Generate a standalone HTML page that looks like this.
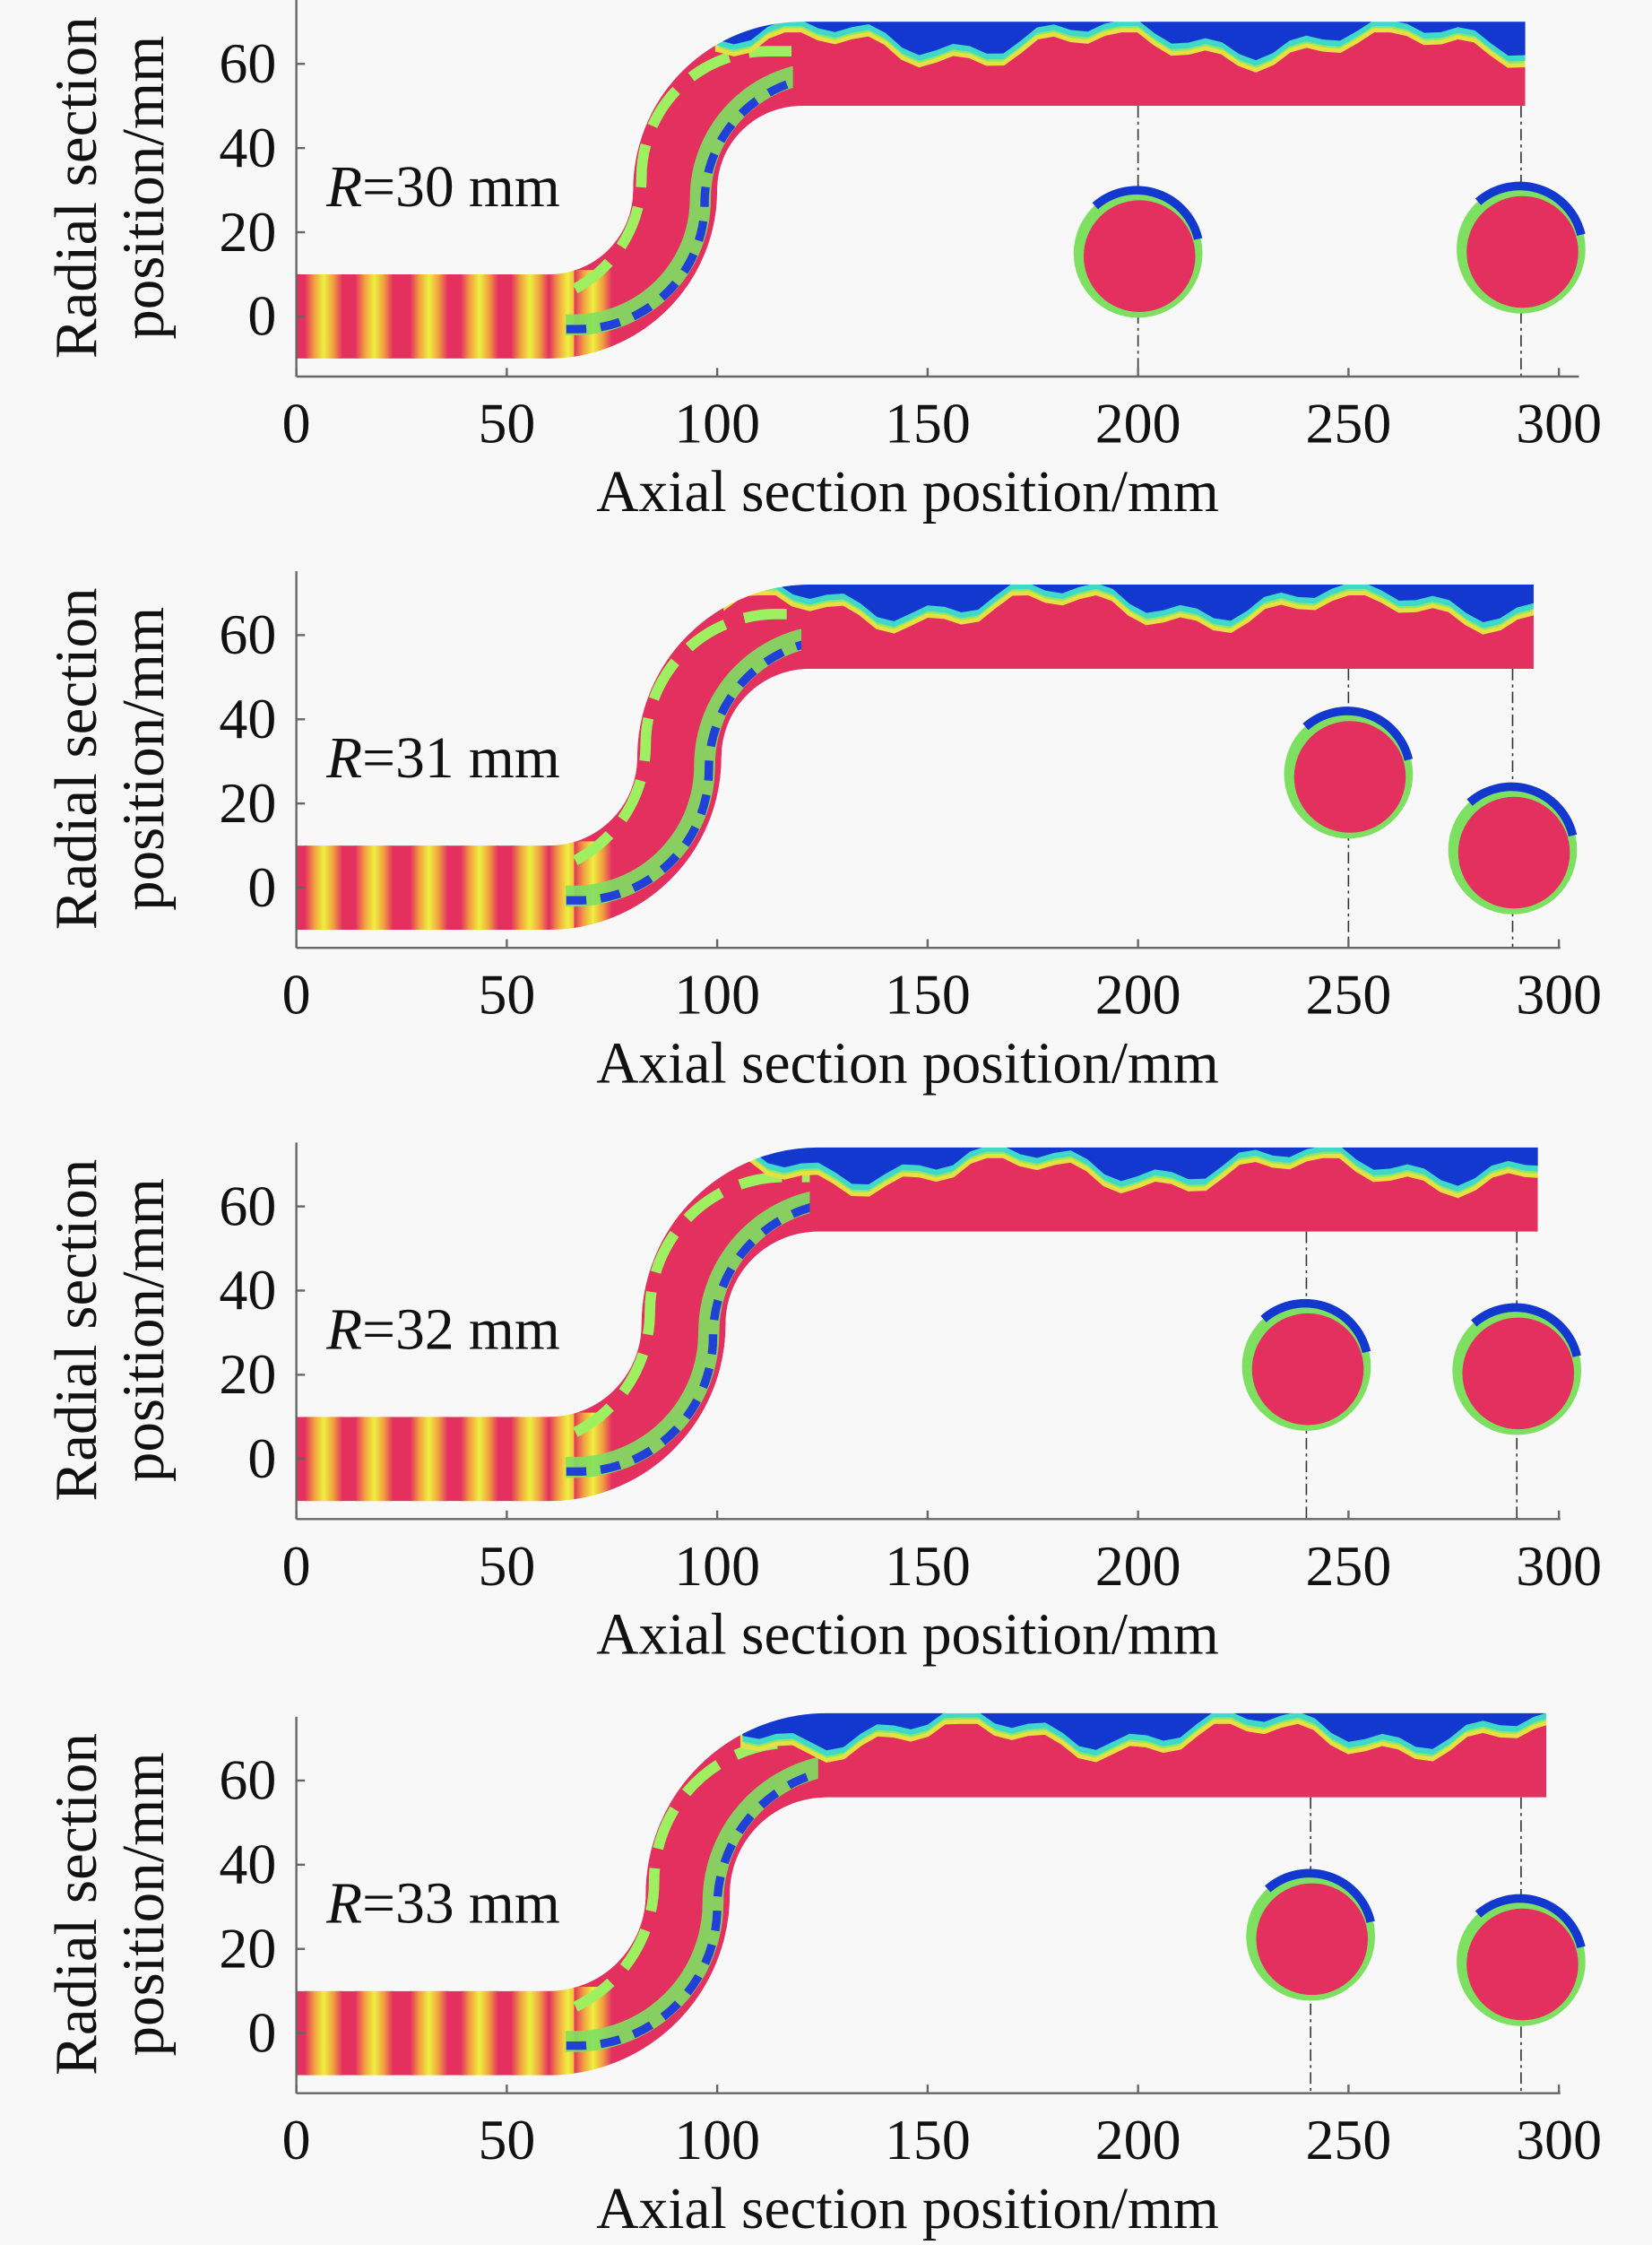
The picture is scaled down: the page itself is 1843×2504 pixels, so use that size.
<!DOCTYPE html>
<html><head><meta charset="utf-8"><style>
html,body{margin:0;padding:0;background:#f8f8f8;}
svg{display:block;}
text{font-family:"Liberation Serif",serif;fill:#111;}
</style></head><body>
<svg id="fig" width="1843" height="2504" viewBox="0 0 1154 1568" xmlns="http://www.w3.org/2000/svg">
<defs>
<linearGradient id="stripe" x1="0" x2="1" y1="0" y2="0">
<stop offset="0" stop-color="#e3305f"/><stop offset="0.25" stop-color="#f2a040"/><stop offset="0.5" stop-color="#eef040"/><stop offset="0.75" stop-color="#f2a040"/><stop offset="1" stop-color="#e3305f"/>
</linearGradient>
</defs>
</svg>
<script>
const radii = [30, 31, 32, 33];
const xTicks = [0, 50, 100, 150, 200, 250, 300];
const yTicks = [0, 20, 40, 60];
const outletEnd = [292, 294, 295, 297];
const sectionX = [[200, 291], [250, 289], [240, 290], [241, 291]];
const sectionY = [[15, 16], [27, 9], [22, 21], [23, 17]];
const stripeX = [2, 14, 27, 39, 51, 60, 66];

const NS = 'http://www.w3.org/2000/svg';
const svg = document.getElementById('fig');
const S = 2.94;
const X0 = 207;
const panelZero = [221, 620, 1019, 1420];
function X(v){ return X0 + v*S; }
function mk(tag, attrs, parent){ const e=document.createElementNS(NS,tag); for(const k in attrs) e.setAttribute(k,attrs[k]); (parent||svg).appendChild(e); return e; }

radii.forEach((R, p) => {
  const y0 = panelZero[p];
  const Y = v => y0 - v*S;
  const axisY = y0 + 42;
  const g = mk('g', {});
  
  

  const rp = R*S;
  const end = outletEnd[p];
  const d = `M ${X(0)} ${Y(0)} H ${X(60)} A ${rp} ${rp} 0 0 0 ${X(60+R)} ${Y(R)} A ${rp} ${rp} 0 0 1 ${X(60+2*R)} ${Y(2*R)} H ${X(end)}`;
  const mid = 'pm' + p;
  const m = mk('mask', {id: mid}, g);
  mk('rect', {x:0,y:0,width:1154,height:1568,fill:'black'}, m);
  mk('path', {d, stroke:'white', 'stroke-width':20*S, fill:'none'}, m);
  const cid = 'bc' + p;
  const cp = mk('clipPath', {id: cid}, g);
  mk('rect', {x:X(64), y:Y(2*R+15), width:(2*R-6)*S, height:(2*R+30)*S}, cp);
  const pg = mk('g', {mask:`url(#${mid})`}, g);
  const pipe = mk('path', {d, stroke:'#e3305f', 'stroke-width':20*S, fill:'none'}, pg);
  
  
  stripeX.forEach(sx => {
    const r = mk('rect', {x:X(sx), y:Y(11), width:9*S, height:22*S, fill:'url(#stripe)'}, pg);
    
    
  });
  const bg = mk('g', {'clip-path':`url(#${cid})`}, pg);
  const shift = (dx, dy) => `translate(${dx*S},${-dy*S})`;
  mk('path', {d, stroke:'#7ee060', 'stroke-width':5*S, fill:'none', transform:shift(6,-2), opacity:0.9}, bg);
  mk('path', {d, stroke:'#2040d8', 'stroke-width':2*S, fill:'none', transform:shift(7,-3), 'stroke-dasharray':'14,10'}, bg);
  mk('path', {d, stroke:'#9ef060', 'stroke-width':2.5*S, fill:'none', transform:shift(-8,3), 'stroke-dasharray':'30,14'}, bg);
  const x1 = 60+2*R-20;
  let top = `M ${X(x1)} ${Y(2*R+12)}`;
  for (let x = x1; x <= end+2; x += 4) {
    const w = 5 + 3.5*Math.sin(x*0.09 + p) + 2*Math.sin(x*0.31 + 2*p);
    top += ` L ${X(x)} ${Y(2*R+10-Math.max(1,w))}`;
  }
  top += ` L ${X(end+2)} ${Y(2*R+12)} Z`;
  mk('path', {d:top, fill:'#8ee868', stroke:'#e8e040', 'stroke-width':3, transform:'translate(0,3)'}, pg);
  mk('path', {d:top, fill:'#40d8c8'}, pg);
  mk('path', {d:top, fill:'#1238d0', transform:'translate(0,-4)'}, pg);

  sectionX[p].forEach((sx, i) => {
    const cx = X(sx), cy = Y(sectionY[p][i]);
    const pipeBottom = Y(2*R-10);
    const dl = mk('line', {x1:cx,y1:pipeBottom,x2:cx,y2:axisY,stroke:'#333','stroke-width':1,'stroke-dasharray':'8,3,2,3'}, g);
    
    
    const c = mk('circle', {cx, cy, r:45, fill:'#7ee060'}, g);
    
    
    mk('path', {d:`M ${cx-30} ${cy-33} A 44 44 0 0 1 ${cx+42} ${cy-10}`, fill:'none', stroke:'#1238d0','stroke-width':6}, g);
    mk('circle', {cx:cx+1, cy:cy+2, r:39, fill:'#e3305f'}, g);
  });

  const ya = mk('line', {x1:X0,y1:y0-221,x2:X0,y2:axisY,stroke:'#666','stroke-width':1.5}, g);
  
  
  const xa = mk('line', {x1:X0,y1:axisY,x2:p===0?1103:1090,y2:axisY,stroke:'#666','stroke-width':1.5}, g);
  
  
  xTicks.forEach(t => {
    mk('line', {x1:X(t),y1:axisY,x2:X(t),y2:axisY-6,stroke:'#666','stroke-width':1.5}, g);
    const tx = mk('text', {x:X(t), y:axisY+46, 'font-size':40, 'text-anchor':'middle'}, g);
    tx.textContent = t;
    
    
  });
  yTicks.forEach(t => {
    mk('line', {x1:X0,y1:Y(t),x2:X0+6,y2:Y(t),stroke:'#666','stroke-width':1.5}, g);
    const tx = mk('text', {x:X0-14, y:Y(t)+13, 'font-size':40, 'text-anchor':'end'}, g);
    tx.textContent = t;
    
    
  });
  const xt = mk('text', {x:634, y:axisY+94, 'font-size':41, 'text-anchor':'middle'}, g);
  xt.textContent = 'Axial section position/mm';
  
  
  const yt = mk('text', {transform:`translate(67,${y0-90}) rotate(-90)`, 'font-size':42, 'text-anchor':'middle'}, g);
  yt.textContent = 'Radial section';
  
  
  const yt2 = mk('text', {transform:`translate(114,${y0-90}) rotate(-90)`, 'font-size':42, 'text-anchor':'middle'}, g);
  yt2.textContent = 'position/mm';
  
  
  const rl = mk('text', {x:228, y:y0-77, 'font-size':41}, g);
  rl.innerHTML = '<tspan font-style="italic">R</tspan>=' + R + ' mm';
  
  
});
</script>
</body></html>
